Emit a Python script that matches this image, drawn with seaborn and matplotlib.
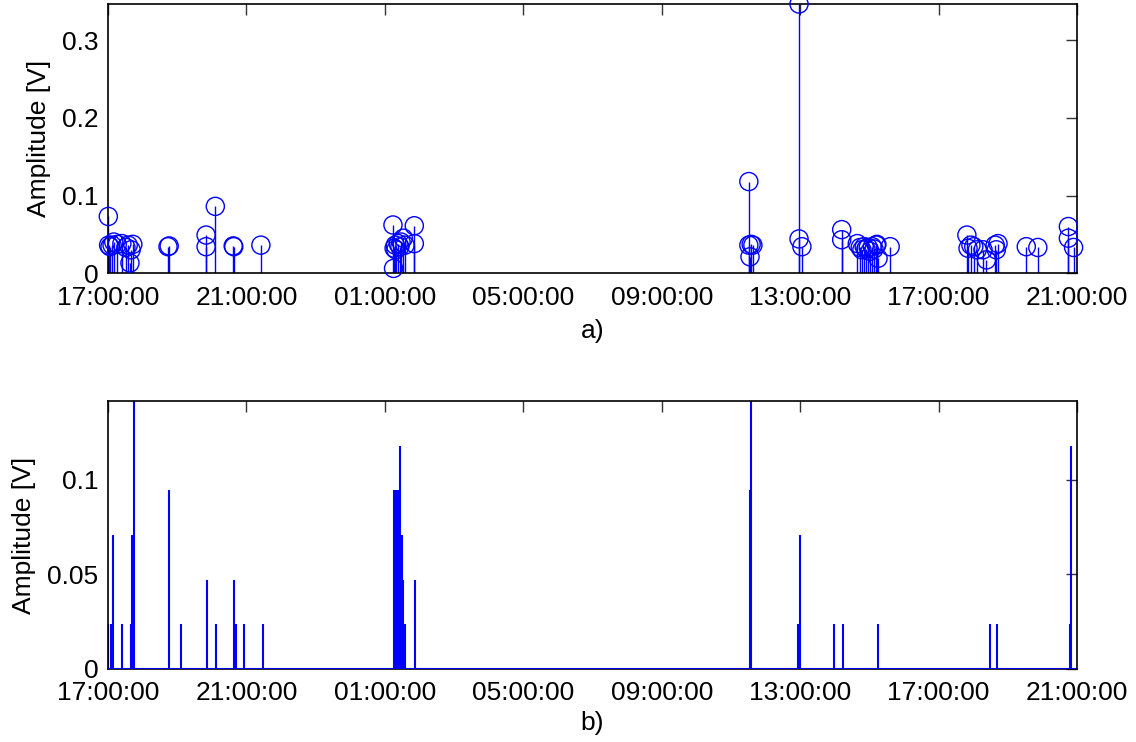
import pandas as pd
import seaborn as sns
import matplotlib.pyplot as plt
import matplotlib.dates as mdates

# a) detected events: time stamp and peak amplitude [V]
event_times = [
    "17:00:30", "17:01:00", "17:03:30", "17:07:00", "17:10:00", "17:16:00",
    "17:24:00", "17:31:00", "17:35:00", "17:38:00", "17:40:00", "17:43:00",
    "18:44:00", "18:46:00", "19:50:00", "19:50:00", "20:06:00", "20:37:00",
    "20:38:00", "21:25:00",
    "+01:14:00", "+01:15:00", "+01:16:00", "+01:18:00", "+01:19:00", "+01:23:00",
    "+01:26:00", "+01:28:00", "+01:32:00", "+01:35:00", "+01:51:00", "+01:51:00",
    "+11:31:00", "+11:31:00", "+11:33:00", "+11:35:00", "+11:38:00",
    "+12:58:00", "+12:58:00", "+13:03:00", "+14:12:00", "+14:12:00",
    "+14:39:00", "+14:44:00", "+14:47:00", "+14:51:00", "+14:54:00", "+14:58:00",
    "+15:01:00", "+15:05:00", "+15:08:00", "+15:12:00", "+15:13:00", "+15:15:00",
    "+15:36:00", "+17:49:00", "+17:51:00", "+17:56:00", "+18:01:00", "+18:07:00",
    "+18:17:00", "+18:23:00", "+18:38:00", "+18:40:00", "+18:43:00", "+19:32:00",
    "+19:52:00", "+20:45:00", "+20:45:00", "+20:54:00",
]
event_amps = [
    0.073, 0.036, 0.034, 0.036, 0.040, 0.037,
    0.038, 0.033, 0.036, 0.013, 0.030, 0.037,
    0.034, 0.035, 0.049, 0.034, 0.086, 0.035,
    0.034, 0.036,
    0.062, 0.006, 0.032, 0.036, 0.030, 0.038,
    0.034, 0.040, 0.045, 0.036, 0.061, 0.038,
    0.118, 0.036, 0.021, 0.037, 0.036,
    0.347, 0.044, 0.034, 0.056, 0.043,
    0.038, 0.033, 0.030, 0.034, 0.031, 0.033,
    0.028, 0.034, 0.031, 0.036, 0.037, 0.019,
    0.034, 0.049, 0.032, 0.036, 0.034, 0.030,
    0.030, 0.017, 0.036, 0.030, 0.038, 0.034,
    0.033, 0.060, 0.045, 0.033,
]

# b) quantised amplitude record
pulse_times = [
    "17:00:30", "17:06:00", "17:09:00", "17:24:00", "17:39:00", "17:42:00",
    "17:45:00", "18:46:00", "19:07:00", "19:51:00", "20:07:00", "20:39:00",
    "20:41:00", "20:56:00", "21:28:00",
    "+01:16:00", "+01:18:00", "+01:19:00", "+01:21:00", "+01:23:00", "+01:25:00",
    "+01:27:00", "+01:29:00", "+01:32:00", "+01:35:00", "+01:52:00",
    "+11:33:00", "+11:35:00", "+12:56:00", "+12:59:00", "+13:59:00", "+14:14:00",
    "+15:15:00", "+18:29:00", "+18:41:00", "+20:48:00", "+20:49:00",
]
pulse_amps = [
    0.0236, 0.0236, 0.0708, 0.0236, 0.0236, 0.0708,
    0.1417, 0.0944, 0.0236, 0.0472, 0.0236, 0.0472,
    0.0236, 0.0236, 0.0236,
    0.0944, 0.0944, 0.0944, 0.0708, 0.0944, 0.0944,
    0.1181, 0.0708, 0.0472, 0.0236, 0.0472,
    0.0944, 0.1417, 0.0236, 0.0708, 0.0236, 0.0236,
    0.0236, 0.0236, 0.0236, 0.0236, 0.1181,
]

day1 = "2010-06-14 "
day2 = "2010-06-15 "


def to_stamp(t):
    return pd.Timestamp(day2 + t[1:]) if t.startswith("+") else pd.Timestamp(day1 + t)


events = pd.DataFrame({"time": [to_stamp(t) for t in event_times], "amp": event_amps})
pulses = pd.DataFrame({"time": [to_stamp(t) for t in pulse_times], "amp": pulse_amps})

sns.set_style("white")
plt.rcParams["font.family"] = ["Liberation Sans", "DejaVu Sans"]
plt.rcParams["font.size"] = 19
for key in ("text.color", "axes.labelcolor", "xtick.color", "ytick.color"):
    plt.rcParams[key] = "black"

fig = plt.figure(figsize=(11.36, 7.42), dpi=100)
ax1 = fig.add_axes([0.0951, 0.632, 0.853, 0.3626])
ax2 = fig.add_axes([0.0951, 0.0984, 0.853, 0.3612])

blue = (0, 0, 1)

# top: stems with open circles
ax1.vlines(events["time"], 0, events["amp"], color=blue, lw=1, zorder=2)
sns.scatterplot(data=events, x="time", y="amp", ax=ax1, marker="o", s=170,
                facecolors="none", edgecolor=blue, linewidth=1, zorder=3,
                clip_on=False)
ax1.set_ylim(0, 0.347)
ax1.set_yticks([0, 0.1, 0.2, 0.3])
ax1.set_yticklabels(["0", "0.1", "0.2", "0.3"])
ax1.set_xlabel("a)", labelpad=7)

# bottom: plain vertical lines on a blue baseline
ax2.vlines(pulses["time"], 0, pulses["amp"], color=blue, lw=1.5, zorder=2)
ax2.axhline(0, color=blue, lw=1.5, zorder=3)
ax2.set_ylim(0, 0.1417)
ax2.set_yticks([0, 0.05, 0.1])
ax2.set_yticklabels(["0", "0.05", "0.1"])
ax2.set_xlabel("b)", labelpad=4)

x0 = pd.Timestamp(day1 + "17:00:00")
x1 = pd.Timestamp(day2 + "21:00:00")
for ax in (ax1, ax2):
    ax.set_xlim(x0, x1)
    ax.xaxis.set_major_locator(mdates.HourLocator(byhour=[1, 5, 9, 13, 17, 21]))
    ax.xaxis.set_major_formatter(mdates.DateFormatter("%H:%M:%S"))
    ax.tick_params(direction="in", length=8, width=1, color="#333333",
                   top=True, right=True, labelsize=19)
    ax.tick_params(axis="x", pad=9)
    ax.tick_params(axis="y", pad=7)
    ax.set_ylabel("Amplitude [V]", fontsize=19, labelpad=8)
    for sp in ax.spines.values():
        sp.set_color("black")
        sp.set_linewidth(1.2)

fig.savefig("out.png", dpi=100)
